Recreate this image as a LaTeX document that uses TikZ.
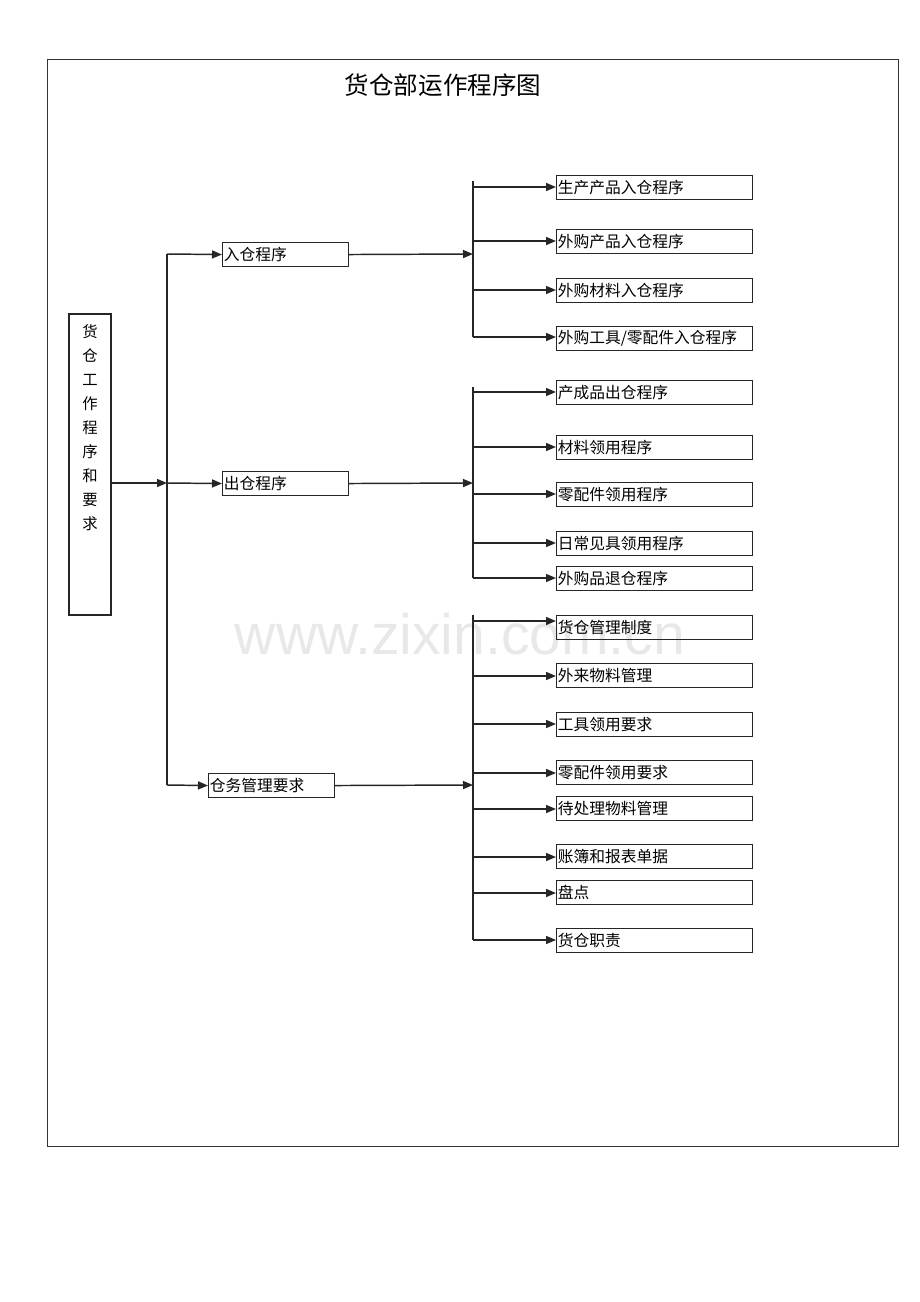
\documentclass[tikz,border=0pt]{standalone}
\usepackage{fontspec}
\newfontfamily\cjk{Noto Sans CJK SC}
\newfontfamily\wmfont{Liberation Sans}
\usetikzlibrary{arrows.meta}
\tikzset{
  conn/.style={line width=1.1pt, draw=black!85},
  arr/.style={conn, -{Triangle[length=7.5pt,width=6pt]}},
  bx/.style={draw=black!85, line width=0.8pt, inner ysep=0pt, inner xsep=1pt, minimum height=18pt, anchor=north west, align=left, font=\cjk\fontsize{11.8pt}{14pt}\selectfont},
  rbox/.style={bx, minimum width=147pt, text width=145pt},
  lbox/.style={bx, minimum width=94.5pt, text width=92.5pt}
}
\begin{document}
\begin{tikzpicture}[x=0.75pt,y=-0.75pt]
\useasboundingbox (0,0) rectangle (920,1302);
\node[text=black!9, font=\wmfont\fontsize{42.8pt}{44pt}\selectfont, inner sep=0] (wm) at (460,634) {www.zixin.com.cn};
\draw[line width=0.75pt, draw=black!80] (47,60) rectangle (898,1146);
\node[font=\cjk\fontsize{18.4pt}{20pt}\selectfont, inner sep=0] (title) at (443,85) {货仓部运作程序图};

% root
\node[draw=black!85, line width=0.8pt, minimum width=31.5pt, minimum height=225.75pt, inner sep=0] (root) at (90,464.5) {};
\node[anchor=north, align=center, inner sep=0, font=\cjk\fontsize{11.5pt}{18pt}\selectfont] (roottext) at (90,324) {货\\仓\\工\\作\\程\\序\\和\\要\\求};

% level 1
\node[lbox] (in) at (222,242) {入仓程序};
\node[lbox] (out) at (222,471) {出仓程序};
\node[lbox] (mg) at (208,773) {仓务管理要求};

\coordinate (j0) at (167,483);
\coordinate (t0a) at (167,254);
\coordinate (t0b) at (167,785);
\draw[arr] (root.east |- j0) -- (j0);
\draw[conn] (t0a) -- (t0b);
\draw[arr] (t0a) -- (in.west);
\draw[arr] (j0) -- (out.west);
\draw[arr] (t0b) -- (mg.west);

% group 1
\coordinate (g1a) at (473,181);
\coordinate (g1b) at (473,337);
\coordinate (g1in) at (473,254);
\draw[conn] (g1a) -- (g1b);
\draw[arr] (in.east) -- (g1in);
\node[rbox] (a1) at (556,175) {生产产品入仓程序};
\node[rbox] (a2) at (556,229) {外购产品入仓程序};
\node[rbox] (a3) at (556,278) {外购材料入仓程序};
\node[rbox] (a4) at (556,326) {外购工具/零配件入仓程序};
\coordinate (ca1) at (473,187);
\coordinate (ca2) at (473,241);
\coordinate (ca3) at (473,290);
\coordinate (ca4) at (473,337);
\foreach \i in {1,...,4} {\draw[arr] (ca\i) -- (a\i.west |- ca\i);}

% group 2
\coordinate (g2a) at (473,387);
\coordinate (g2b) at (473,578);
\coordinate (g2in) at (473,483);
\draw[conn] (g2a) -- (g2b);
\draw[arr] (out.east) -- (g2in);
\node[rbox] (b1) at (556,380) {产成品出仓程序};
\node[rbox] (b2) at (556,435) {材料领用程序};
\node[rbox] (b3) at (556,482) {零配件领用程序};
\node[rbox] (b4) at (556,531) {日常见具领用程序};
\node[rbox] (b5) at (556,566) {外购品退仓程序};
\coordinate (cb1) at (473,392);
\coordinate (cb2) at (473,447);
\coordinate (cb3) at (473,494);
\coordinate (cb4) at (473,543);
\coordinate (cb5) at (473,578);
\foreach \i in {1,...,5} {\draw[arr] (cb\i) -- (b\i.west |- cb\i);}

% group 3
\coordinate (g3a) at (473,615);
\coordinate (g3b) at (473,940);
\coordinate (g3in) at (473,785);
\draw[conn] (g3a) -- (g3b);
\draw[arr] (mg.east) -- (g3in);
\node[rbox] (c1) at (556,615) {货仓管理制度};
\node[rbox] (c2) at (556,663) {外来物料管理};
\node[rbox] (c3) at (556,712) {工具领用要求};
\node[rbox] (c4) at (556,760) {零配件领用要求};
\node[rbox] (c5) at (556,796) {待处理物料管理};
\node[rbox] (c6) at (556,844) {账簿和报表单据};
\node[rbox] (c7) at (556,880) {盘点};
\node[rbox] (c8) at (556,928) {货仓职责};
\coordinate (cc1) at (473,621);
\coordinate (cc2) at (473,676);
\coordinate (cc3) at (473,724);
\coordinate (cc4) at (473,773);
\coordinate (cc5) at (473,809);
\coordinate (cc6) at (473,857);
\coordinate (cc7) at (473,893);
\coordinate (cc8) at (473,940);
\foreach \i in {1,...,8} {\draw[arr] (cc\i) -- (c\i.west |- cc\i);}
\end{tikzpicture}
\end{document}
